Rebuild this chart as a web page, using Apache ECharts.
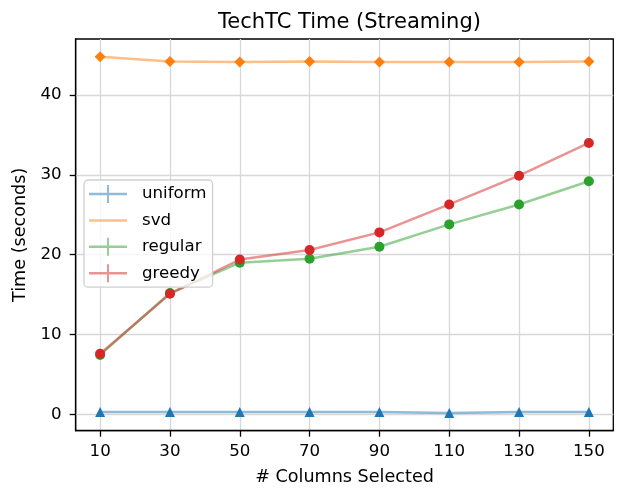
<!DOCTYPE html>
<html>
<head>
<meta charset="utf-8">
<script src="https://cdn.jsdelivr.net/npm/echarts@6.0.0/dist/echarts.min.js"></script>
<style>
html,body{margin:0;padding:0;background:#fff;}
#chart{width:617px;height:492px;}
</style>
</head>
<body>
<div id="chart"></div>
<script>
const columns = [10, 30, 50, 70, 90, 110, 130, 150];
const uniformTime = [0.3, 0.3, 0.3, 0.3, 0.3, 0.17, 0.3, 0.3];
const svdTime = [44.8, 44.2, 44.15, 44.2, 44.15, 44.15, 44.15, 44.2];
const regularTime = [7.45, 15.2, 19.0, 19.5, 21.0, 23.8, 26.3, 29.2];
const greedyTime = [7.6, 15.1, 19.4, 20.6, 22.8, 26.3, 29.9, 34.0];
const xTicks = [10, 30, 50, 70, 90, 110, 130, 150];
const yTicks = [0, 10, 20, 30, 40];

const FONT = 'DejaVu Sans';
const colors = ['#1f77b4', '#ff7f0e', '#2ca02c', '#d62728'];

function pairs(ys) { return columns.map((x, i) => [x, ys[i]]); }

const plusIcon = 'path://M0,0h0v18h0zM48,0h0v18h0zM0,7.8h38v2.5h-38zM18,0h2v18h-2z';
const lineIcon = 'path://M0,0h0v18h0zM48,0h0v18h0zM0,7.8h38v2.5h-38z';

function mkSeries(name, ys, color, symbol, size) {
  return {
    name: name,
    type: 'line',
    data: pairs(ys),
    symbol: symbol,
    symbolSize: size,
    showAllSymbol: true,
    lineStyle: { color: color, width: 2.5, opacity: 0.5 },
    itemStyle: { color: color, opacity: 1 },
    emphasis: { disabled: true },
    animation: false
  };
}

const chart = echarts.init(document.getElementById('chart'), null, { renderer: 'canvas' });
chart.setOption({
  animation: false,
  backgroundColor: '#fff',
  title: {
    text: 'TechTC Time (Streaming)',
    left: 344.5,
    textAlign: 'center',
    top: 7,
    textStyle: { fontFamily: FONT, fontSize: 21, fontWeight: 'normal', color: '#000' }
  },
  grid: {
    left: 75.7, right: 3.7, top: 39, bottom: 61.3,
    show: true, borderColor: '#000', borderWidth: 1.3, backgroundColor: 'transparent'
  },
  legend: {
    orient: 'vertical',
    left: 84, top: 180,
    padding: [5, 6, 5, 5],
    itemWidth: 48, itemHeight: 18, itemGap: 8.4,
    backgroundColor: 'rgba(255,255,255,0.8)',
    borderColor: '#d0d0d0', borderWidth: 1.3, borderRadius: 4,
    textStyle: { fontFamily: FONT, fontSize: 16.67, color: '#000' },
    selectedMode: false,
    data: [
      { name: 'uniform', icon: plusIcon, itemStyle: { color: colors[0], opacity: 0.5 } },
      { name: 'svd', icon: lineIcon, itemStyle: { color: colors[1], opacity: 0.5 } },
      { name: 'regular', icon: plusIcon, itemStyle: { color: colors[2], opacity: 0.5 } },
      { name: 'greedy', icon: plusIcon, itemStyle: { color: colors[3], opacity: 0.5 } }
    ]
  },
  xAxis: {
    type: 'value',
    min: 3, max: 157,
    name: '# Columns Selected',
    nameLocation: 'middle',
    nameGap: 38,
    nameTextStyle: { fontFamily: FONT, fontSize: 17.6, color: '#000' },
    axisLine: { show: true, onZero: false, lineStyle: { color: '#000', width: 1.3 } },
    axisTick: { show: true, length: 6, lineStyle: { color: '#000', width: 1.3 }, customValues: xTicks },
    axisLabel: { customValues: xTicks, margin: 12, fontFamily: FONT, fontSize: 16.67, color: '#000' },
    splitLine: { show: true, lineStyle: { color: '#d8d8d8', width: 1.3 } }
  },
  yAxis: {
    type: 'value',
    min: -2.05, max: 47.03,
    name: 'Time (seconds)',
    nameLocation: 'middle',
    nameGap: 43,
    nameTextStyle: { fontFamily: FONT, fontSize: 17.6, color: '#000' },
    axisLine: { show: true, onZero: false, lineStyle: { color: '#000', width: 1.3 } },
    axisTick: { show: true, length: 6, lineStyle: { color: '#000', width: 1.3 }, customValues: yTicks },
    axisLabel: { customValues: yTicks, margin: 14, fontFamily: FONT, fontSize: 16.67, color: '#000' },
    splitLine: { show: true, lineStyle: { color: '#d8d8d8', width: 1.3 } }
  },
  series: [
    mkSeries('uniform', uniformTime, colors[0], 'triangle', 10),
    mkSeries('svd', svdTime, colors[1], 'diamond', 11),
    mkSeries('regular', regularTime, colors[2], 'circle', 10),
    mkSeries('greedy', greedyTime, colors[3], 'circle', 10)
  ]
});
</script>
</body>
</html>
